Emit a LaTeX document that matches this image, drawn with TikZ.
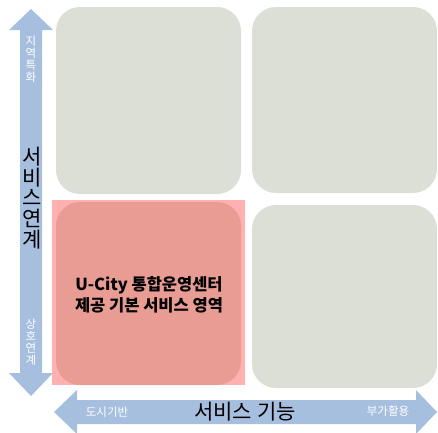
\documentclass[tikz,border=0pt]{standalone}
\usepackage{fontspec}
\newfontfamily\kr{Noto Sans CJK KR}
\definecolor{boxgray}{RGB}{220,223,214}
\definecolor{boxred}{RGB}{232,156,148}
\definecolor{hlpink}{RGB}{255,176,176}
\definecolor{arrowblue}{RGB}{167,191,223}
\tikzset{
  tile/.style={fill=boxgray, draw=none, rounded corners=24pt},
  axisfill/.style={fill=arrowblue, draw=none},
  bigtxt/.style={font=\kr\fontsize{21}{20.8}\selectfont, text=black, inner sep=0pt, align=center},
  smalltxt/.style={font=\kr\fontsize{11.5}{12.2}\selectfont, text=white, inner sep=0pt, align=center},
}
\begin{document}
\begin{tikzpicture}[x=1pt,y=-1pt]
\useasboundingbox (0,0) rectangle (438,432);
% tiles
\fill[tile] (56,7) rectangle (241,194);
\fill[tile] (252,7) rectangle (437,193);
\fill[tile] (252,205) rectangle (437,388);
\fill[hlpink] (52,200) rectangle (245,385);
\fill[tile, fill=boxred] (56,202) rectangle (241,385);
\node[font=\kr\bfseries\fontsize{16.5}{20.5}\selectfont, align=center, inner sep=0pt] (core) at (149,295) {U-City 통합운영센터\\제공 기본 서비스 영역};
% vertical axis arrow
\fill[axisfill] (31,9) -- (53,30) -- (42,30) -- (42,373) -- (53,373) -- (31,396) -- (9,373) -- (20,373) -- (20,30) -- (9,30) -- cycle;
% horizontal axis arrow
\fill[axisfill] (54,412) -- (77,390) -- (77,400) -- (416,400) -- (416,390) -- (437,412) -- (416,434) -- (416,424) -- (77,424) -- (77,434) -- cycle;
% labels
\node[bigtxt] (vlab) at (32,198) {서\\비\\스\\연\\계};
\node[smalltxt] (vtop) at (31,59) {지\\역\\특\\화};
\node[smalltxt] (vbot) at (31,342) {상\\호\\연\\계};
\node[bigtxt] (hlab) at (245,412) {서비스 기능};
\node[smalltxt] (hleft) at (107,412) {도시기반};
\node[smalltxt] (hright) at (388,411) {부가활용};
\end{tikzpicture}
\end{document}
